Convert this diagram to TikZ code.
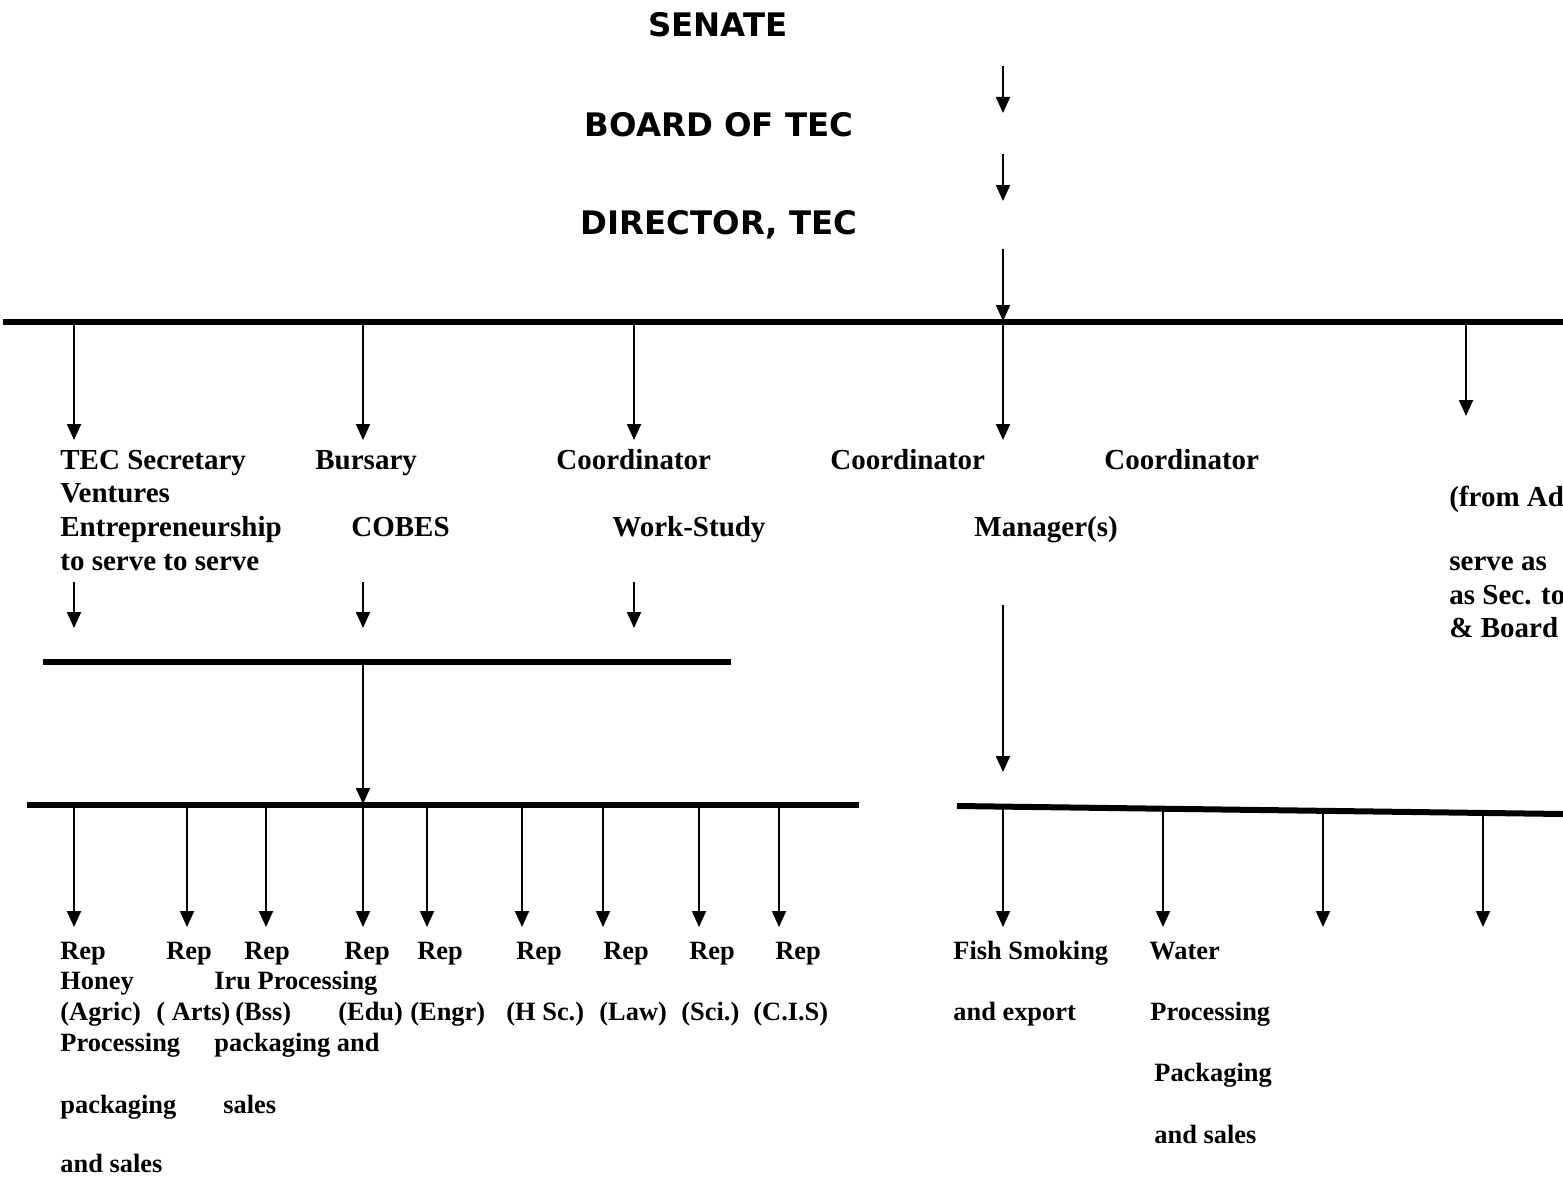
\documentclass[tikz,border=0pt]{standalone}
\usepackage{fontspec}
\setmainfont{Liberation Serif}
\newfontfamily\titlefont{DejaVu Sans}
\usetikzlibrary{arrows.meta}
\begin{document}
\begin{tikzpicture}[x=0.5pt,y=-0.5pt,
  txt/.style={anchor=base west, inner sep=0pt, font=\fontsize{14.5}{17}\selectfont\bfseries},
  stxt/.style={anchor=base west, inner sep=0pt, font=\fontsize{13.2}{15}\selectfont\bfseries},
  ttl/.style={anchor=base, inner sep=0pt, font=\titlefont\fontsize{16.2}{18}\selectfont\bfseries},
  arr/.style={line width=1pt, -{Triangle[length=8pt,width=7pt]}},
  bar/.style={line width=3pt}]
\useasboundingbox (0,0) rectangle (1563,1177);

% titles
\node[ttl] (senate) at (718,37) {SENATE};
\node[ttl] (board) at (719,136) {BOARD OF TEC};
\node[ttl] (director) at (719,234) {DIRECTOR, TEC};

% top arrows
\coordinate (a1s) at (1003,66);  \coordinate (a1e) at (1003,113);
\coordinate (a2s) at (1003,154); \coordinate (a2e) at (1003,201);
\coordinate (a3s) at (1003,249); \coordinate (a3e) at (1003,321);
\draw[arr] (a1s) -- (a1e);
\draw[arr] (a2s) -- (a2e);
\draw[arr] (a3s) -- (a3e);

% top bar
\coordinate (tbL) at (3,322); \coordinate (tbR) at (1563,322);
\draw[bar] (tbL) -- (tbR);

% level 2 arrows
\foreach \n/\x in {b1/74,b2/363,b3/634,b4/1003}{
  \coordinate (\n s) at (\x,322); \coordinate (\n e) at (\x,440);
  \draw[arr] (\n s) -- (\n e);
}
\coordinate (b5s) at (1466,322); \coordinate (b5e) at (1466,416);
\draw[arr] (b5s) -- (b5e);

% level 2 texts
\node[txt] (tecsec) at (60,469) {TEC Secretary};
\node[txt] (vent) at (60,502) {Ventures};
\node[txt] (entre) at (60,536) {Entrepreneurship};
\node[txt] (serve) at (60,570) {to serve to serve};
\node[txt] (bursary) at (315,469) {Bursary};
\node[txt] (cobes) at (351,536) {COBES};
\node[txt] (coord1) at (556,469) {Coordinator};
\node[txt] (work) at (612,536) {Work-Study};
\node[txt] (coord2) at (830,469) {Coordinator};
\node[txt] (coord3) at (1104,469) {Coordinator};
\node[txt] (manager) at (974,536) {Manager(s)};
\node[txt] (fromad) at (1449,506) {(from Ad};
\node[txt] (serveas) at (1449,570) {serve as};
\node[txt] (assec) at (1449,604) {as Sec. to};
\node[txt] (boardr) at (1449,637) {\& Board};

% arrows to middle bar
\foreach \n/\x in {c1/74,c2/363,c3/634}{
  \coordinate (\n s) at (\x,582); \coordinate (\n e) at (\x,628);
  \draw[arr] (\n s) -- (\n e);
}
\coordinate (mbL) at (43,662); \coordinate (mbR) at (731,662);
\draw[bar] (mbL) -- (mbR);
\coordinate (mds) at (363,662); \coordinate (mde) at (363,804);
\draw[arr] (mds) -- (mde);

% manager arrow
\coordinate (mgs) at (1003,605); \coordinate (mge) at (1003,772);
\draw[arr] (mgs) -- (mge);

% bottom-left bar
\coordinate (lbL) at (27,805); \coordinate (lbR) at (859,805);
\draw[bar] (lbL) -- (lbR);
\foreach \n/\x in {d1/74,d2/187,d3/266,d4/363,d5/427,d6/522,d7/603,d8/699,d9/779}{
  \coordinate (\n s) at (\x,805); \coordinate (\n e) at (\x,927);
  \draw[arr] (\n s) -- (\n e);
}

% bottom-right bar (slanted)
\coordinate (rbL) at (957,806); \coordinate (rbR) at (1563,814);
\draw[bar] (rbL) -- (rbR);
\foreach \n/\x/\y in {e1/1003/807,e2/1163/809,e3/1323/811,e4/1483/813}{
  \coordinate (\n s) at (\x,\y); \coordinate (\n e) at (\x,927);
  \draw[arr] (\n s) -- (\n e);
}

% bottom-left texts
\foreach \n/\x in {r1/60,r2/166,r3/244,r4/344,r5/417,r6/516,r7/603,r8/689,r9/775}{
  \node[stxt] (\n) at (\x,959) {Rep};
}
\node[stxt] (honey) at (60,989) {Honey};
\node[stxt] (iru) at (214,989) {Iru Processing};
\node[stxt] (agric) at (60,1020) {(Agric)};
\node[stxt] (arts) at (156,1020) {( Arts)};
\node[stxt] (bss) at (235,1020) {(Bss)};
\node[stxt] (edu) at (338,1020) {(Edu)};
\node[stxt] (engr) at (410,1020) {(Engr)};
\node[stxt] (hsc) at (506,1020) {(H Sc.)};
\node[stxt] (law) at (599,1020) {(Law)};
\node[stxt] (sci) at (681,1020) {(Sci.)};
\node[stxt] (cis) at (753,1020) {(C.I.S)};
\node[stxt] (proc1) at (60,1051) {Processing};
\node[stxt] (packand) at (214,1051) {packaging and};
\node[stxt] (pack1) at (60,1113) {packaging};
\node[stxt] (sales1) at (223,1113) {sales};
\node[stxt] (andsales1) at (60,1172) {and sales};

% bottom-right texts
\node[stxt] (fish) at (953,959) {Fish Smoking};
\node[stxt] (export) at (953,1020) {and export};
\node[stxt] (water) at (1149,959) {Water};
\node[stxt] (proc2) at (1150,1020) {Processing};
\node[stxt] (pack2) at (1154,1081) {Packaging};
\node[stxt] (andsales2) at (1154,1143) {and sales};
\end{tikzpicture}
\end{document}
